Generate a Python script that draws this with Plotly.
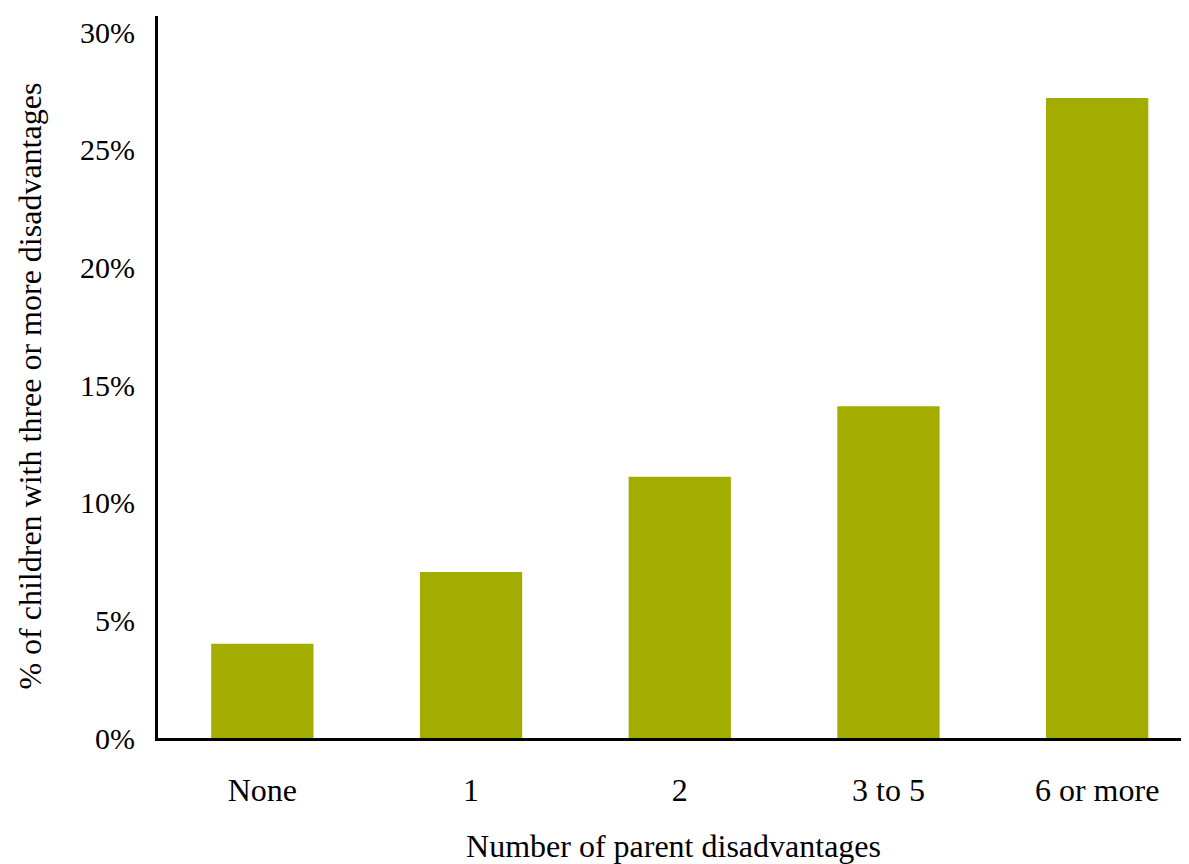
import plotly.graph_objects as go

categories = ['None', '1', '2', '3 to 5', '6 or more']
values = [4, 7.05, 11.1, 14.1, 27.2]
y_ticks = [0, 5, 10, 15, 20, 25, 30]
y_tick_labels = ['0%', '5%', '10%', '15%', '20%', '25%', '30%']
x_title = 'Number of parent disadvantages'
y_title = '% of children with three or more disadvantages'

family = 'Liberation Serif, Times New Roman, serif'
big = dict(family=family, size=32, color='black')
ytick_font = dict(family=family, size=30, color='black')

fig = go.Figure(
    data=[
        go.Bar(x=list(range(len(categories))), y=values, width=0.49,
               marker={'color': '#A2AD00', 'line': {'width': 0}})
    ]
)

# page body has an 8px margin, so the figure is shrunk/offset by that much
fig.update_layout(
    width=1181, height=856,
    margin=dict(l=150, r=0, t=8, b=126, autoexpand=False),
    paper_bgcolor='white', plot_bgcolor='white',
    font=big,
    showlegend=False,
    xaxis=dict(
        tickmode='array', tickvals=list(range(len(categories))), ticktext=categories,
        range=[-0.5, 4.44], showline=True, linecolor='black', linewidth=3,
        ticks='', showgrid=False, zeroline=False, ticklabelstandoff=22,
        automargin=False, tickfont=big,
        title=dict(text=x_title, standoff=30, font=big),
    ),
    yaxis=dict(
        tickmode='array', tickvals=y_ticks, ticktext=y_tick_labels,
        range=[0, 30.68], showline=True, linecolor='black', linewidth=3,
        ticks='', showgrid=False, zeroline=False, ticklabelstandoff=14,
        automargin=False, tickfont=ytick_font,
    ),
    annotations=[
        dict(text=y_title, xref='paper', yref='paper', x=-0.124, y=0.487,
             xanchor='center', yanchor='middle', textangle=-90, showarrow=False, font=big)
    ],
)

fig.write_html('out.html')
